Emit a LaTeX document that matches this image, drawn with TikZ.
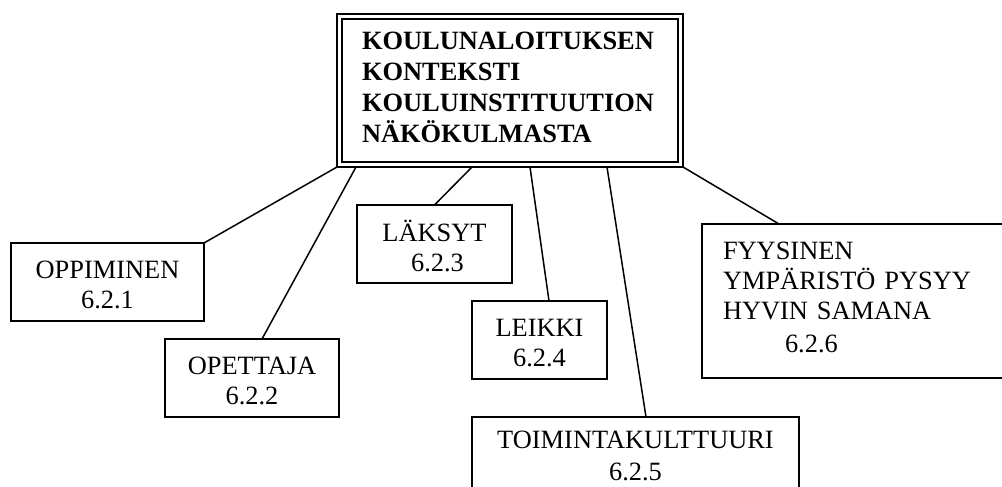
\documentclass[tikz,border=0pt]{standalone}
\usepackage{fontspec}
\setmainfont{Liberation Serif}
\usetikzlibrary{calc}
\tikzset{
    box/.style={rectangle, draw, line width=1.7pt, inner sep=0pt, outer sep=0pt, anchor=north west, align=center, font=\fontsize{26.4}{30}\selectfont},
    link/.style={line width=1.5pt}
}

\begin{document}
\begin{tikzpicture}[x=1pt, y=-1pt]
    \clip (0,0) rectangle (1002,487);
    \fill [white] (0,0) rectangle (1002,487);

    \node (main) [box, line width=2.8pt, align=left, inner xsep=25pt, text width=296pt, text height=36pt, text depth=117pt, font=\bfseries\fontsize{26.4}{31}\selectfont] at (337,14) {KOULUNALOITUKSEN\\KONTEKSTI\\KOULUINSTITUUTION\\NÄKÖKULMASTA};
    \draw [line width=1.7pt] ($(main.north west)+(5,5)$) rectangle ($(main.south east)+(-5,-5)$);

    \node (opp) [box, text width=193pt, text height=35pt, text depth=43pt] at (11,243) {OPPIMINEN\hspace*{7pt}\\6.2.1\hspace*{19pt}};
    \node (opet) [box, text width=174pt, text height=35pt, text depth=43pt] at (165,339) {OPETTAJA\\6.2.2};
    \node (laksyt) [box, text width=155pt, text height=36pt, text depth=42pt] at (357,205) {LÄKSYT\hspace*{10pt}\\\hspace*{6pt}6.2.3};
    \node (leikki) [box, text width=135pt, text height=35pt, text depth=43pt] at (472,301) {LEIKKI\hspace*{6pt}\\6.2.4};
    \node (toim) [box, text width=327pt, text height=31pt, text depth=60pt] at (472,417) {TOIMINTAKULTTUURI\\[2pt]6.2.5\hspace*{32pt}};
    \node (fyys) [box, align=left, inner xsep=21pt, text width=300pt, text height=35pt, text depth=119pt] at (702,224) {FYYSINEN\\YMPÄRISTÖ PYSYY\\HYVIN SAMANA\\[3pt]\hspace*{62pt}6.2.6};

    % lines from the main box
    \draw [link] (main.south west) -- (opp.north east);
    \draw [link] ($(main.south west)+(19,0)$) -- ($(opet.north west)+(97,0)$);
    \draw [link] ($(main.south west)+(135,0)$) -- (laksyt.north);
    \draw [link] ($(main.south west)+(193,0)$) -- ($(leikki.north west)+(77,0)$);
    \draw [link] ($(main.south west)+(270,0)$) -- ($(toim.north west)+(174,0)$);
    \draw [link] (main.south east) -- ($(fyys.north west)+(77,0)$);
\end{tikzpicture}
\end{document}
